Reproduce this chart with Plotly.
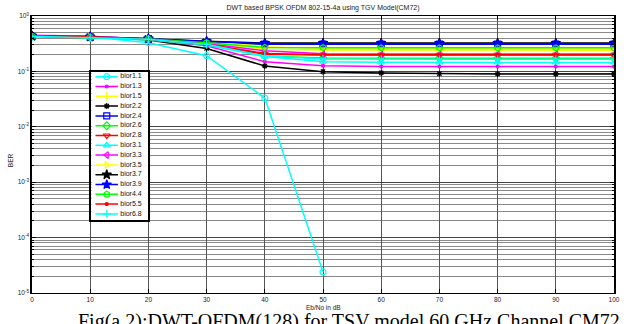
import plotly.graph_objects as go

# Eb/No sweep (dB)
snr_db = [0, 10, 20, 30, 40, 50, 60, 70, 80, 90, 100]

# BER per biorthogonal wavelet
bior1_1 = [0.44, 0.42, 0.33, 0.192, 0.033, 2.4e-5, None, None, None, None, None]
bior1_3 = [0.45, 0.43, 0.385, 0.29, 0.15, 0.127, 0.122, 0.122, 0.122, 0.122, 0.122]
bior1_5 = [0.44, 0.42, 0.39, 0.34, 0.25, 0.243, 0.242, 0.242, 0.242, 0.242, 0.242]
bior2_2 = [0.44, 0.42, 0.37, 0.26, 0.125, 0.099, 0.094, 0.091, 0.09, 0.09, 0.09]
bior2_4 = [0.43, 0.42, 0.39, 0.34, 0.31, 0.31, 0.31, 0.31, 0.31, 0.31, 0.31]
bior2_6 = [0.43, 0.41, 0.38, 0.31, 0.19, 0.175, 0.172, 0.172, 0.172, 0.172, 0.172]
bior2_8 = [0.44, 0.42, 0.375, 0.30, 0.205, 0.198, 0.198, 0.198, 0.198, 0.198, 0.198]
bior3_1 = [0.43, 0.41, 0.37, 0.30, 0.185, 0.15, 0.146, 0.145, 0.145, 0.145, 0.145]
bior3_3 = [0.44, 0.425, 0.385, 0.32, 0.235, 0.208, 0.206, 0.206, 0.206, 0.206, 0.206]
bior3_5 = [0.43, 0.42, 0.39, 0.345, 0.28, 0.26, 0.258, 0.258, 0.258, 0.258, 0.258]
bior3_7 = [0.44, 0.42, 0.39, 0.35, 0.325, 0.325, 0.325, 0.325, 0.325, 0.325, 0.325]
bior3_9 = [0.43, 0.42, 0.39, 0.345, 0.318, 0.316, 0.316, 0.316, 0.316, 0.316, 0.316]
bior4_4 = [0.43, 0.41, 0.385, 0.33, 0.27, 0.268, 0.266, 0.266, 0.266, 0.266, 0.266]
bior5_5 = [0.44, 0.42, 0.38, 0.31, 0.21, 0.20, 0.20, 0.20, 0.20, 0.20, 0.20]
bior6_8 = [0.43, 0.41, 0.38, 0.31, 0.19, 0.168, 0.165, 0.165, 0.165, 0.165, 0.165]

names = ["bior1.1", "bior1.3", "bior1.5", "bior2.2", "bior2.4", "bior2.6", "bior2.8",
         "bior3.1", "bior3.3", "bior3.5", "bior3.7", "bior3.9", "bior4.4", "bior5.5", "bior6.8"]
curves = [bior1_1, bior1_3, bior1_5, bior2_2, bior2_4, bior2_6, bior2_8,
          bior3_1, bior3_3, bior3_5, bior3_7, bior3_9, bior4_4, bior5_5, bior6_8]

# MATLAB-like colour / marker cycle
colors = ["#00FFFF", "#FF00FF", "#FFFF00", "#000000", "#0000FF", "#00FF00", "#FF0000",
          "#00FFFF", "#FF00FF", "#FFFF00", "#000000", "#0000FF", "#00FF00", "#FF0000", "#00FFFF"]
symbols = ["circle-open", "circle", "cross-thin-open", "asterisk-open", "square-open",
           "diamond-open", "triangle-down-open", "triangle-up-open", "triangle-left-open",
           "triangle-right-open", "star", "star", "hexagon-open", "circle", "cross-thin-open"]
sizes = [6, 3, 6, 5, 6, 6, 6, 6, 6, 6, 7, 7, 6, 3, 6]

y_ticks = [1, 1e-1, 1e-2, 1e-3, 1e-4, 1e-5]
y_tick_text = ["10<sup>0</sup>", "10<sup>-1</sup>", "10<sup>-2</sup>",
               "10<sup>-3</sup>", "10<sup>-4</sup>", "10<sup>-5</sup>"]
x_ticks = [0, 10, 20, 30, 40, 50, 60, 70, 80, 90, 100]

fig = go.Figure()

for name, ys, c, s, sz in zip(names, curves, colors, symbols, sizes):
    fig.add_trace(go.Scatter(
        x=snr_db, y=ys, name=name, mode="lines+markers",
        line=dict(color=c, width=1.5),
        marker=dict(symbol=s, size=sz, color=c, line=dict(color=c, width=1.2)),
        showlegend=False, connectgaps=False,
    ))

# Boxed legend drawn in an inset subplot (pixel-like units)
row0, row_step = 76.7, 9.8
for i, (name, c, s, sz) in enumerate(zip(names, colors, symbols, sizes)):
    yy = row0 + row_step * i
    fig.add_trace(go.Scatter(x=[96, 118.7], y=[yy, yy], mode="lines",
                             line=dict(color=c, width=1.5), xaxis="x2", yaxis="y2",
                             showlegend=False, hoverinfo="skip"))
    fig.add_trace(go.Scatter(x=[107.4], y=[yy], mode="markers",
                             marker=dict(symbol=s, size=sz, color=c, line=dict(color=c, width=1.2)),
                             xaxis="x2", yaxis="y2", showlegend=False, hoverinfo="skip"))
    fig.add_trace(go.Scatter(x=[121], y=[yy], mode="text", text=[name],
                             textposition="middle right",
                             textfont=dict(family="Liberation Sans, Arial", size=7, color="#111"),
                             xaxis="x2", yaxis="y2", showlegend=False, hoverinfo="skip",
                             cliponaxis=False))

W, H = 632, 324
L, R, T, B = 32, 13, 16, 31
pw, ph = W - L - R, H - T - B


def px_x(p):
    return (p - L) / pw


def px_y(p):
    return (H - B - p) / ph


font = dict(family="Liberation Sans, Arial", size=7, color="#222")

fig.update_layout(
    width=W, height=H,
    margin=dict(l=L, r=R, t=T, b=B),
    paper_bgcolor="white", plot_bgcolor="white",
    font=font,
    title=dict(text="DWT based BPSK OFDM 802-15-4a using TGV Model(CM72)",
               x=px_x(325.5), xref="paper", xanchor="center",
               y=1 - 8 / H, yref="container", yanchor="middle",
               font=dict(family="Liberation Sans, Arial", size=7, color="#222")),
    xaxis=dict(range=[0, 100], tickvals=x_ticks, ticks="inside", ticklen=4,
               tickcolor="black", showline=True, linecolor="black", linewidth=1,
               mirror="ticks", showgrid=True, gridcolor="#555", gridwidth=1,
               zeroline=False, tickfont=dict(size=6.5, color="#222")),
    yaxis=dict(type="log", range=[-5, 0], tickvals=y_ticks, ticktext=y_tick_text,
               ticks="inside", ticklen=4, tickcolor="black", showline=True,
               linecolor="black", linewidth=1.5, mirror="ticks", showgrid=True,
               gridcolor="#444", gridwidth=1, zeroline=False,
               tickfont=dict(size=6.5, color="#222"),
               minor=dict(dtick="D1", showgrid=True, gridcolor="#8a8a8a", gridwidth=1,
                          ticks="inside", ticklen=2, tickcolor="black")),
    xaxis2=dict(domain=[px_x(92), px_x(149.3)], range=[92, 149.3], anchor="y2",
                showgrid=False, zeroline=False, showticklabels=False, ticks="",
                showline=True, linecolor="black", linewidth=1.5, mirror=True),
    yaxis2=dict(domain=[px_y(220), px_y(71.7)], range=[220, 71.7], anchor="x2",
                showgrid=False, zeroline=False, showticklabels=False, ticks="",
                showline=True, linecolor="black", linewidth=1.5, mirror=True),
    annotations=[
        dict(text="Eb/No in dB", x=px_x(325.5), y=px_y(307.5), xref="paper", yref="paper",
             showarrow=False, xanchor="center", yanchor="middle",
             font=dict(family="Liberation Sans, Arial", size=6.5, color="#222")),
        dict(text="BER", x=px_x(10), y=px_y(160), xref="paper", yref="paper",
             showarrow=False, textangle=-90, xanchor="center", yanchor="middle",
             font=dict(family="Liberation Sans, Arial", size=6.5, color="#222")),
        dict(text="Fig(a 2):DWT-OFDM(128) for TSV model 60 GHz Channel CM72",
             x=px_x(352), y=px_y(321), xref="paper", yref="paper",
             showarrow=False, xanchor="center", yanchor="middle",
             font=dict(family="Liberation Serif, Times New Roman", size=20, color="black")),
    ],
)

fig.write_html("out.html")
